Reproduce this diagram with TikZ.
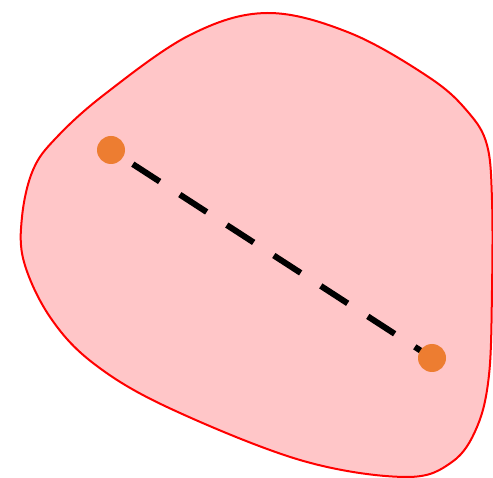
\documentclass[tikz,border=0pt]{standalone}
\begin{document}
\begin{tikzpicture}[x=1pt, y=-1pt]
    \definecolor{borderColour}{HTML}{FF0000}
    \definecolor{fillColour}{HTML}{FFC6C8}
    \definecolor{dotColour}{HTML}{ED7D31}

    \tikzset{dot/.style={circle, fill=dotColour, inner sep=0pt, minimum size=28pt}}

    % Frame
    \useasboundingbox (0,0) rectangle (493,478);

    % Convex region
    \filldraw[fill=fillColour, draw=borderColour, line width=2pt]
        plot[smooth cycle, tension=0.6] coordinates {
            (267,13) (350,33) (430,78) (468,112) (487,145) (492,200)
            (492,290) (489,375) (477,427) (452,462) (405,477) (300,460)
            (167,407) (93,363) (50,317) (24,262) (22,217) (33,170)
            (56,138) (105,94) (190,35)};

    % End points
    \coordinate (p) at (111,150);
    \coordinate (q) at (432,358);

    % Segment between them
    \draw[line width=6pt, dash pattern=on 32pt off 24pt, dash phase=30pt] (p) -- (q);

    \node[dot] (pa) at (p) {};
    \node[dot] (pb) at (q) {};

\end{tikzpicture}
\end{document}
